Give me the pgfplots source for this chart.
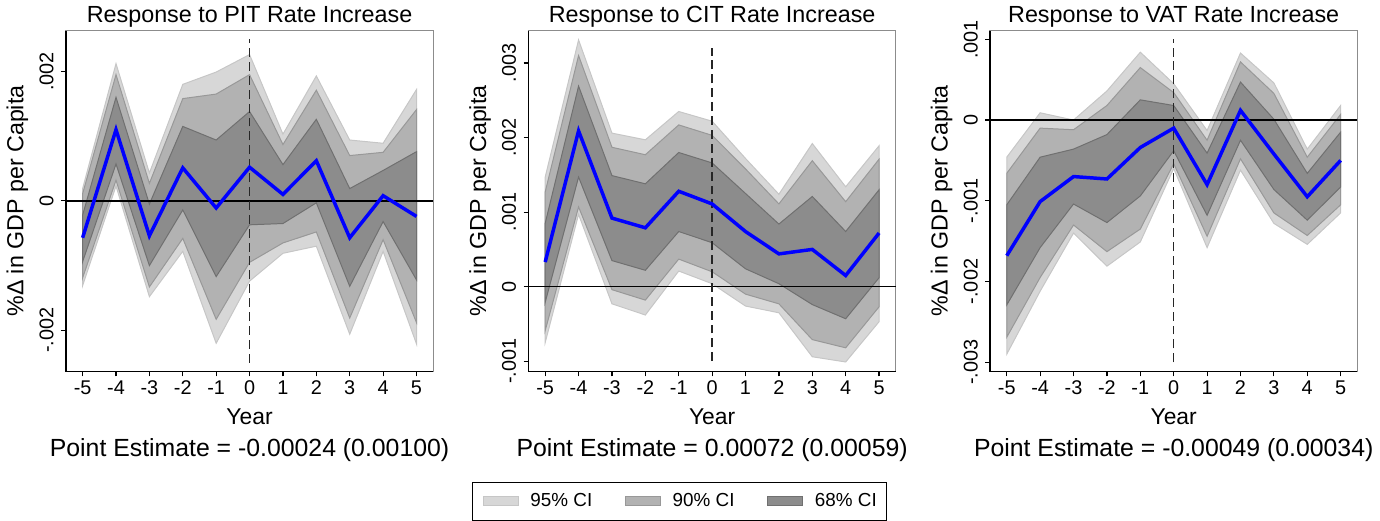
\documentclass[border=0pt]{standalone}
\usepackage{fontspec}
\setmainfont{Liberation Sans}
\usepackage{pgfplots}
\pgfplotsset{compat=1.18}
\usepackage{pgfplotstable}
\usepgfplotslibrary{fillbetween}

\definecolor{cA}{RGB}{215,215,215}
\definecolor{cAe}{RGB}{198,198,198}
\definecolor{cB}{RGB}{178,178,178}
\definecolor{cBe}{RGB}{152,152,152}
\definecolor{cC}{RGB}{140,140,140}
\definecolor{cCe}{RGB}{112,112,112}

\pgfplotstableread{
x  pe       u95      l95      u90      l90      u68      l68
-5 -0.00057 0.00019 -0.00131 0.00011 -0.00119 -0.00022 -0.00094
-4 0.00110 0.00212 0.00023 0.00195 0.00032 0.00160 0.00057
-3 -0.00054 0.00043 -0.00148 0.00027 -0.00133 -0.00005 -0.00100
-2 0.00051 0.00180 -0.00078 0.00158 -0.00058 0.00115 -0.00014
-1 -0.00011 0.00199 -0.00220 0.00165 -0.00183 0.00094 -0.00117
0 0.00052 0.00226 -0.00124 0.00195 -0.00095 0.00138 -0.00037
1 0.00010 0.00103 -0.00081 0.00087 -0.00065 0.00056 -0.00035
2 0.00062 0.00193 -0.00070 0.00171 -0.00048 0.00126 -0.00003
3 -0.00057 0.00094 -0.00206 0.00070 -0.00181 0.00019 -0.00132
4 0.00008 0.00089 -0.00078 0.00075 -0.00060 0.00047 -0.00032
5 -0.00024 0.00172 -0.00221 0.00141 -0.00188 0.00076 -0.00122
}\tA

\pgfplotstableread{
x  pe       u95      l95      u90      l90      u68      l68
-5 0.00033 0.00147 -0.00075 0.00127 -0.00059 0.00085 -0.00021
-4 0.00209 0.00331 0.00097 0.00310 0.00107 0.00269 0.00147
-3 0.00092 0.00206 -0.00023 0.00187 -0.00004 0.00149 0.00035
-2 0.00079 0.00197 -0.00038 0.00177 -0.00018 0.00138 0.00022
-1 0.00128 0.00235 0.00021 0.00217 0.00037 0.00180 0.00074
0 0.00111 0.00222 0.00004 0.00203 0.00020 0.00166 0.00059
1 0.00074 0.00172 -0.00026 0.00158 -0.00010 0.00125 0.00024
2 0.00044 0.00124 -0.00035 0.00111 -0.00023 0.00084 0.00004
3 0.00050 0.00192 -0.00094 0.00169 -0.00071 0.00121 -0.00024
4 0.00015 0.00134 -0.00101 0.00114 -0.00082 0.00074 -0.00043
5 0.00072 0.00189 -0.00047 0.00171 -0.00027 0.00130 0.00012
}\tB

\pgfplotstableread{
x  pe       u95      l95      u90      l90      u68      l68
-5 -0.00168 -0.00046 -0.00290 -0.00066 -0.00269 -0.00105 -0.00229
-4 -0.00101 0.00009 -0.00212 -0.00010 -0.00195 -0.00046 -0.00158
-3 -0.00070 0.00000 -0.00140 -0.00012 -0.00130 -0.00036 -0.00104
-2 -0.00073 0.00036 -0.00181 0.00018 -0.00163 -0.00018 -0.00127
-1 -0.00034 0.00084 -0.00151 0.00065 -0.00135 0.00025 -0.00094
0 -0.00010 0.00045 -0.00060 0.00034 -0.00054 0.00018 -0.00038
1 -0.00080 -0.00013 -0.00158 -0.00025 -0.00144 -0.00041 -0.00118
2 0.00012 0.00083 -0.00062 0.00072 -0.00048 0.00047 -0.00025
3 -0.00042 0.00046 -0.00128 0.00033 -0.00115 0.00001 -0.00086
4 -0.00095 -0.00036 -0.00154 -0.00046 -0.00143 -0.00066 -0.00124
5 -0.00050 0.00018 -0.00115 0.00007 -0.00105 -0.00015 -0.00083
}\tC

\pgfplotsset{
  panel/.style={
    scale only axis, width=185pt, height=171.5pt,
    anchor=south west,
    xmin=-5.5, xmax=5.5,
    xtick={-5,-4,-3,-2,-1,0,1,2,3,4,5},
    xticklabels={-5,-4,-3,-2,-1,0,1,2,3,4,5},
    xtick pos=bottom, ytick pos=left,
    tick align=outside, major tick length=2.5pt,
    tick style={black, line width=0.6pt},
    axis line style={draw=black!45, line width=0.6pt},
    scaled y ticks=false,
    ticklabel style={font=\fontsize{10}{12}\selectfont},
    xticklabel style={inner sep=2pt},
    yticklabel style={rotate=90, anchor=south, inner xsep=0pt, inner ysep=3.5pt},
    xlabel={Year},
    xlabel style={at={(axis description cs:0.5,-0.1574)}, anchor=base, xshift=0pt, yshift=0pt, font=\fontsize{11.5}{14}\selectfont},
    ylabel={\%Δ in GDP per Capita},
    ylabel style={at={(axis description cs:-0.132,0.5)}, anchor=center, xshift=0pt, yshift=0pt, font=\fontsize{11.7}{14}\selectfont},
    every axis title shift=0pt,
    title style={at={(axis description cs:0.5,1.0233)}, anchor=base, xshift=0pt, yshift=0pt, font=\fontsize{11.75}{14}\selectfont},
    clip=false,
  },
}

\newcommand{\drawbands}[1]{%
  \addplot[name path=u95, draw=none, forget plot] table[x=x,y=u95]{#1};
  \addplot[name path=l95, draw=none, forget plot] table[x=x,y=l95]{#1};
  \addplot[name path=u90, draw=none, forget plot] table[x=x,y=u90]{#1};
  \addplot[name path=l90, draw=none, forget plot] table[x=x,y=l90]{#1};
  \addplot[name path=u68, draw=none, forget plot] table[x=x,y=u68]{#1};
  \addplot[name path=l68, draw=none, forget plot] table[x=x,y=l68]{#1};
  \addplot[fill=cA, draw=cAe, line width=0.5pt, forget plot] fill between[of=u95 and l95];
  \addplot[fill=cB, draw=cBe, line width=0.5pt, forget plot] fill between[of=u90 and l90];
  \addplot[fill=cC, draw=cCe, line width=0.5pt, forget plot] fill between[of=u68 and l68];
  \addplot[black, line width=0.65pt, forget plot] coordinates {(-5.5,0) (5.5,0)};
}

\begin{document}
\begin{tikzpicture}
\path (0,0) rectangle (690pt,257.5pt);

% Panel 1
\begin{axis}[panel, at={(31pt,73pt)},
  ymin=-0.002633, ymax=0.002627,
  ytick={-0.002,0,0.002}, yticklabels={-.002,0,.002},
  title={Response to PIT Rate Increase}]
\drawbands{\tA}
\addplot[black!85, line width=0.75pt, dash pattern=on 4.5pt off 2.5pt, forget plot] coordinates {(0,-0.0025) (0,0.0025)};
\addplot[blue, line width=1.75pt, forget plot] table[x=x,y=pe]{\tA};
\draw[black, line width=0.6pt] (rel axis cs:0,1) -- (rel axis cs:0,0) -- (rel axis cs:1,0);
\node[anchor=base, font=\fontsize{12.5}{15}\selectfont] at (rel axis cs:0.5,-0.2507) {Point Estimate = -0.00024 (0.00100)};
\end{axis}

% Panel 2
\begin{axis}[panel, at={(264pt,73pt)},
  ymin=-0.001135, ymax=0.003432,
  ytick={-0.001,0,0.001,0.002,0.003}, yticklabels={-.001,0,.001,.002,.003},
  title={Response to CIT Rate Increase},
  legend style={at={(axis description cs:0.412,-0.3817)}, anchor=center,
    legend columns=3, draw=black, line width=0.6pt,
    font=\fontsize{9.5}{11}\selectfont,
    inner xsep=5pt, inner ysep=5.5pt,
    nodes={inner sep=0pt},
    /tikz/every odd column/.append style={column sep=6pt},
    /tikz/every even column/.append style={column sep=16.5pt}},
  legend image code/.code={\draw[#1, line width=0.5pt] (0pt,-2.25pt) rectangle (17.5pt,2.25pt);}]
\drawbands{\tB}
\addplot[black!85, line width=0.75pt, dash pattern=on 4.5pt off 2.5pt, forget plot] coordinates {(0,-0.001) (0,0.0032)};
\addplot[blue, line width=1.75pt, forget plot] table[x=x,y=pe]{\tB};
\draw[black, line width=0.6pt] (rel axis cs:0,1) -- (rel axis cs:0,0) -- (rel axis cs:1,0);
\node[anchor=base, font=\fontsize{12.5}{15}\selectfont] at (rel axis cs:0.5,-0.2507) {Point Estimate = 0.00072 (0.00059)};
\addlegendimage{fill=cA, draw=cAe}
\addlegendentry{95\% CI}
\addlegendimage{fill=cB, draw=cBe}
\addlegendentry{90\% CI}
\addlegendimage{fill=cC, draw=cCe}
\addlegendentry{68\% CI}
\end{axis}

% Panel 3
\begin{axis}[panel, at={(496.5pt,73pt)},
  ymin=-0.003112, ymax=0.001105,
  ytick={-0.003,-0.002,-0.001,0,0.001}, yticklabels={-.003,-.002,-.001,0,.001},
  title={Response to VAT Rate Increase}]
\drawbands{\tC}
\addplot[black!85, line width=0.75pt, dash pattern=on 4.5pt off 2.5pt, forget plot] coordinates {(0,-0.003) (0,0.001)};
\addplot[blue, line width=1.75pt, forget plot] table[x=x,y=pe]{\tC};
\draw[black, line width=0.6pt] (rel axis cs:0,1) -- (rel axis cs:0,0) -- (rel axis cs:1,0);
\node[anchor=base, font=\fontsize{12.5}{15}\selectfont] at (rel axis cs:0.5,-0.2507) {Point Estimate = -0.00049 (0.00034)};
\end{axis}
\end{tikzpicture}
\end{document}
